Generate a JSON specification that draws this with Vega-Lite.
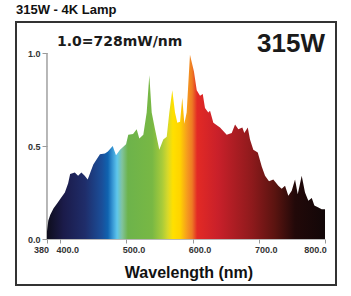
{
  "$schema": "https://vega.github.io/schema/vega-lite/v6.json",
  "width": 320,
  "height": 263,
  "autosize": "none",
  "padding": {"left": 16, "top": 22, "right": 15, "bottom": 11},
  "background": "white",
  "title": {
    "text": "315W - 4K Lamp",
    "anchor": "start",
    "frame": "group",
    "font": "Liberation Sans",
    "fontSize": 13,
    "fontWeight": "bold",
    "color": "#111",
    "offset": 5
  },
  "config": {
    "view": {"stroke": "#333", "strokeWidth": 2},
    "axis": {"grid": false}
  },
  "data": {
    "values": [
      {"wl": 380, "v": 0.04}, {"wl": 382, "v": 0.10}, {"wl": 385, "v": 0.13}, {"wl": 390, "v": 0.165},
      {"wl": 395, "v": 0.19}, {"wl": 400, "v": 0.215}, {"wl": 407, "v": 0.25}, {"wl": 412, "v": 0.30},
      {"wl": 415, "v": 0.35}, {"wl": 422, "v": 0.357}, {"wl": 427, "v": 0.34}, {"wl": 432, "v": 0.357},
      {"wl": 437, "v": 0.34}, {"wl": 441.5, "v": 0.32}, {"wl": 450, "v": 0.40}, {"wl": 460, "v": 0.455},
      {"wl": 467.6, "v": 0.46}, {"wl": 472, "v": 0.47}, {"wl": 479.3, "v": 0.50}, {"wl": 484.3, "v": 0.45},
      {"wl": 490.3, "v": 0.48}, {"wl": 499.4, "v": 0.51}, {"wl": 502.8, "v": 0.56}, {"wl": 510, "v": 0.565},
      {"wl": 515.5, "v": 0.59}, {"wl": 519.5, "v": 0.54}, {"wl": 525.5, "v": 0.56}, {"wl": 530.6, "v": 0.68},
      {"wl": 534.6, "v": 0.88}, {"wl": 538.2, "v": 0.68}, {"wl": 543.2, "v": 0.59}, {"wl": 549.7, "v": 0.48},
      {"wl": 555.7, "v": 0.535}, {"wl": 560.9, "v": 0.55}, {"wl": 564.8, "v": 0.68}, {"wl": 569.3, "v": 0.80},
      {"wl": 573.4, "v": 0.68}, {"wl": 576.9, "v": 0.625}, {"wl": 581, "v": 0.63}, {"wl": 584.4, "v": 0.76},
      {"wl": 587.5, "v": 0.62}, {"wl": 591, "v": 0.68}, {"wl": 596, "v": 0.99}, {"wl": 602, "v": 0.90},
      {"wl": 606.2, "v": 0.80}, {"wl": 611.2, "v": 0.77}, {"wl": 615.3, "v": 0.78}, {"wl": 618.7, "v": 0.705},
      {"wl": 623.7, "v": 0.68}, {"wl": 626.3, "v": 0.69}, {"wl": 631.3, "v": 0.625}, {"wl": 641.4, "v": 0.60},
      {"wl": 651.5, "v": 0.56}, {"wl": 659.1, "v": 0.57}, {"wl": 664.1, "v": 0.615}, {"wl": 669.1, "v": 0.59},
      {"wl": 675.1, "v": 0.60}, {"wl": 678.1, "v": 0.57}, {"wl": 683.3, "v": 0.60}, {"wl": 686.7, "v": 0.535},
      {"wl": 691.7, "v": 0.48}, {"wl": 698.4, "v": 0.465}, {"wl": 704.4, "v": 0.39}, {"wl": 709.4, "v": 0.34},
      {"wl": 715.4, "v": 0.31}, {"wl": 721.9, "v": 0.32}, {"wl": 729.5, "v": 0.286}, {"wl": 734.6, "v": 0.27},
      {"wl": 739.6, "v": 0.286}, {"wl": 744.6, "v": 0.233}, {"wl": 749.7, "v": 0.26}, {"wl": 754.7, "v": 0.32},
      {"wl": 758.8, "v": 0.24}, {"wl": 764.8, "v": 0.34}, {"wl": 769.8, "v": 0.25}, {"wl": 774.8, "v": 0.205},
      {"wl": 780, "v": 0.22}, {"wl": 783.9, "v": 0.18}, {"wl": 790, "v": 0.17}, {"wl": 795, "v": 0.16},
      {"wl": 800, "v": 0.16}
    ]
  },
  "layer": [
    {
      "data": {"values": [{}]},
      "mark": {"type": "rule", "color": "#a0a0a0", "strokeWidth": 1.5},
      "encoding": {
        "x": {"datum": 380, "type": "quantitative", "scale": {"domain": [333.2, 816.6], "nice": false, "zero": false}},
        "y": {"datum": 0, "type": "quantitative", "scale": {"domain": [-0.2473, 1.1667], "nice": false, "zero": false}},
        "y2": {"datum": 1}
      }
    },
    {
      "data": {"values": [{}]},
      "mark": {"type": "rule", "color": "#a0a0a0", "strokeWidth": 1.5},
      "encoding": {
        "x": {"datum": 380, "type": "quantitative"},
        "x2": {"datum": 800},
        "y": {"datum": 0, "type": "quantitative"}
      }
    },
    {
      "mark": {
        "type": "area",
        "interpolate": "linear",
        "color": {
          "gradient": "linear",
          "x1": 0, "x2": 1, "y1": 0, "y2": 0,
          "stops": [
            {"offset": 0.0, "color": "#0e0d1c"},
            {"offset": 0.06, "color": "#1b1b4a"},
            {"offset": 0.137, "color": "#1f2d6a"},
            {"offset": 0.198, "color": "#1a4f9a"},
            {"offset": 0.219, "color": "#0f63b0"},
            {"offset": 0.237, "color": "#3a9ad6"},
            {"offset": 0.252, "color": "#5ec6ec"},
            {"offset": 0.27, "color": "#80c39e"},
            {"offset": 0.291, "color": "#6db34b"},
            {"offset": 0.378, "color": "#78b844"},
            {"offset": 0.414, "color": "#a8cb3a"},
            {"offset": 0.435, "color": "#d8d92a"},
            {"offset": 0.453, "color": "#ffe000"},
            {"offset": 0.478, "color": "#ffd400"},
            {"offset": 0.504, "color": "#f59b1e"},
            {"offset": 0.522, "color": "#ee7a24"},
            {"offset": 0.54, "color": "#e32a25"},
            {"offset": 0.615, "color": "#c9202a"},
            {"offset": 0.737, "color": "#8e1a1c"},
            {"offset": 0.82, "color": "#5a1410"},
            {"offset": 0.892, "color": "#220909"},
            {"offset": 1.0, "color": "#120708"}
          ]
        }
      },
      "encoding": {
        "x": {
          "field": "wl", "type": "quantitative",
          "axis": {
            "orient": "bottom",
            "offset": -46,
            "domain": false,
            "values": [380, 400, 500, 600, 700, 800],
            "labelExpr": "datum.value == 380 ? '380' : format(datum.value, '.1f')",
            "tickSize": 4,
            "tickColor": "#999",
            "tickWidth": 1,
            "labelFont": "Liberation Sans",
            "labelFontSize": 9,
            "labelFontWeight": "bold",
            "labelColor": "#333",
            "labelPadding": 2,
            "labelOffset": {"condition": [{"test": "datum.value == 380", "value": -6}, {"test": "datum.value == 800", "value": -10}], "value": 7},
            "title": "Wavelength (nm)",
            "titleFont": "Liberation Sans",
            "titleFontSize": 16,
            "titleFontWeight": "bold",
            "titleColor": "#111",
            "titleX": 172.5,
            "titleY": 38.7,
            "titleAlign": "center",
            "titleBaseline": "alphabetic"
          }
        },
        "y": {
          "field": "v", "type": "quantitative",
          "axis": {
            "orient": "left",
            "offset": -31,
            "domain": false,
            "values": [0, 0.5, 1],
            "format": ".1f",
            "tickSize": 5,
            "tickColor": "#999",
            "tickWidth": 1,
            "labelFont": "Liberation Sans",
            "labelFontSize": 9,
            "labelFontWeight": "bold",
            "labelColor": "#333",
            "labelPadding": 2,
            "title": null
          }
        },
        "y2": {"datum": 0}
      }
    },
    {
      "data": {"values": [{}]},
      "mark": {"type": "text", "text": "1.0=728mW/nm", "font": "DejaVu Sans", "fontSize": 14, "fontWeight": "bold", "align": "left", "baseline": "alphabetic", "color": "#1a1a1a"},
      "encoding": {
        "x": {"datum": 395.1, "type": "quantitative"},
        "y": {"datum": 1.039, "type": "quantitative"}
      }
    },
    {
      "data": {"values": [{}]},
      "mark": {"type": "text", "text": "315W", "font": "Liberation Sans", "fontSize": 26, "fontWeight": "bold", "align": "right", "baseline": "alphabetic", "color": "#1a1a1a"},
      "encoding": {
        "x": {"datum": 800, "type": "quantitative"},
        "y": {"datum": 1.005, "type": "quantitative"}
      }
    }
  ]
}
